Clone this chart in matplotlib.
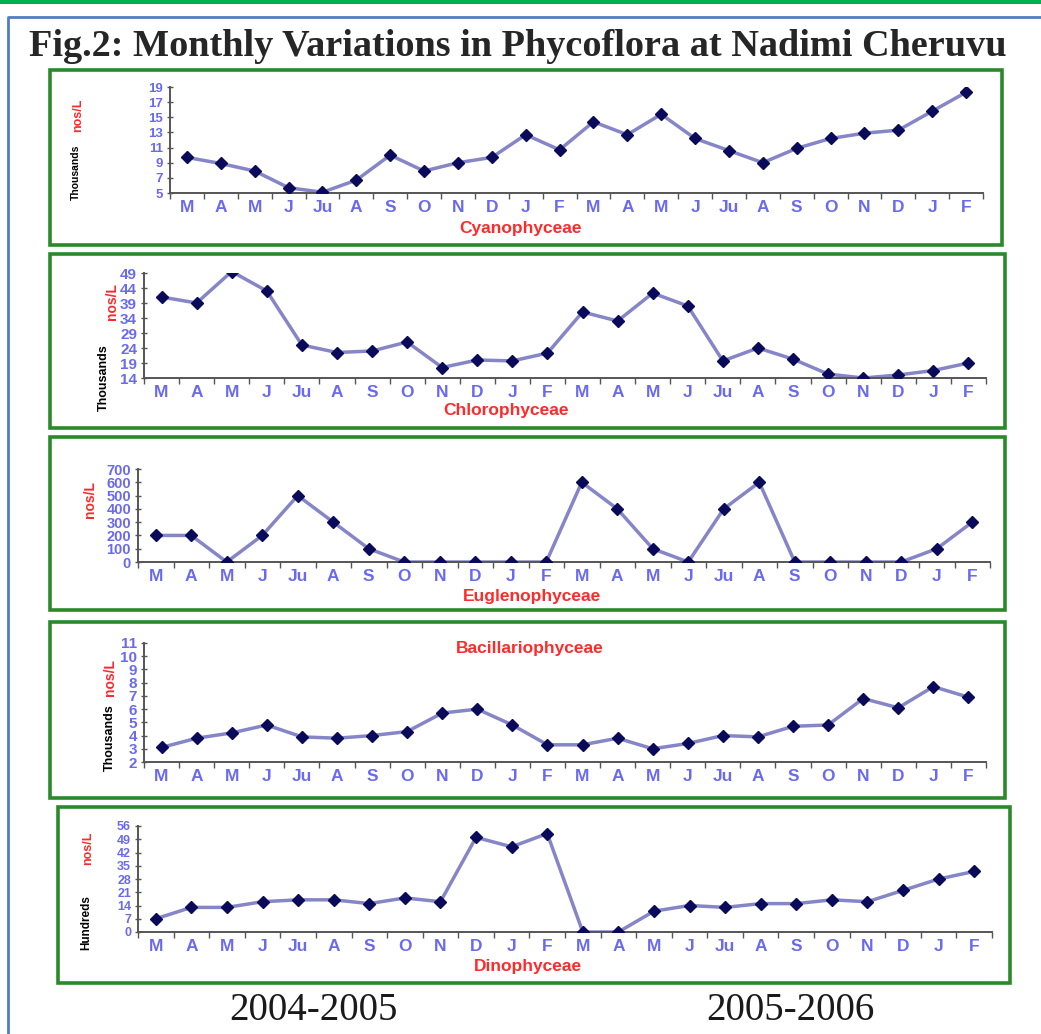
"""Fig.2 monthly variations in phycoflora at Nadimi Cheruvu."""

import matplotlib
matplotlib.use("Agg")
import matplotlib.pyplot as plt
import numpy as np
from matplotlib.patches import Rectangle

W, H = 1041, 1034

months = ["M", "A", "M", "J", "Ju", "A", "S", "O", "N", "D", "J", "F"] * 2

cyanophyceae = [9.7, 8.9, 7.9, 5.7, 5.1, 6.7, 10.0, 7.9, 9.0, 9.7, 12.7, 10.7,
                14.4, 12.7, 15.4, 12.2, 10.6, 9.0, 10.9, 12.2, 12.9, 13.3, 15.8, 18.3]
chlorophyceae = [41, 39, 49.5, 43, 25, 22.5, 23, 26, 17.5, 20, 19.7, 22.3,
                 36, 33, 42.3, 38, 19.7, 24, 20.3, 15.3, 14, 15, 16.5, 19]
euglenophyceae = [200, 200, 0, 200, 500, 300, 100, 0, 0, 0, 0, 0,
                  600, 400, 100, 0, 400, 600, 0, 0, 0, 0, 100, 300]
bacillariophyceae = [3.1, 3.8, 4.2, 4.8, 3.9, 3.8, 4.0, 4.3, 5.7, 6.0, 4.8, 3.3,
                     3.3, 3.8, 3.0, 3.4, 4.0, 3.9, 4.7, 4.8, 6.8, 6.1, 7.7, 6.9]
dinophyceae = [7, 13, 13, 16, 17, 17, 15, 18, 16, 50, 45, 52,
               0, 0, 11, 14, 13, 15, 15, 17, 16, 22, 28, 32]

cyano_ticks = [5, 7, 9, 11, 13, 15, 17, 19]
chloro_ticks = [14, 19, 24, 29, 34, 39, 44, 49]
eugleno_ticks = [0, 100, 200, 300, 400, 500, 600, 700]
bacill_ticks = [2, 3, 4, 5, 6, 7, 8, 9, 10, 11]
dino_ticks = [0, 7, 14, 21, 28, 35, 42, 49, 56]

LINE = "#8585c8"
MARK = "#0a0a5a"
TICKC = "#6a6af0"
RED = "#ff2a2a"
GREEN = "#2a8a2a"
SANS = "Liberation Sans"

fig = plt.figure(figsize=(W / 100, H / 100), dpi=100)

bg = fig.add_axes([0, 0, 1, 1], zorder=0)
bg.set_xlim(0, W)
bg.set_ylim(H, 0)
bg.axis("off")

# page decorations
bg.add_patch(Rectangle((0, 0), W, 4, color="#00b050", lw=0))
bg.plot([8, 8, W], [H, 17, 17], color="#4f7fc0", lw=2)

bg.text(518, 47, "Fig.2: Monthly Variations in Phycoflora at Nadimi Cheruvu",
        family="Liberation Serif", fontsize=27.5, fontweight="bold", color="#262626",
        ha="center", va="center")
bg.text(313, 1010, "2004-2005", family="Liberation Serif", fontsize=28,
        color="#1a1a1a", ha="center", va="center")
bg.text(790, 1010, "2005-2006", family="Liberation Serif", fontsize=28,
        color="#1a1a1a", ha="center", va="center")


def draw_panel(values, ticks, box, axes_px, name, name_xy, unit_labels, tick_size):
    bx0, by0, bx1, by1 = box
    bg.add_patch(Rectangle((bx0, by0), bx1 - bx0, by1 - by0, fill=False,
                           ec=GREEN, lw=2.6))

    left, top, right, bottom = axes_px
    ax = fig.add_axes([left / W, 1 - bottom / H, (right - left) / W, (bottom - top) / H],
                      zorder=2)
    ax.patch.set_alpha(0)
    x = np.arange(len(values))
    ax.plot(x, values, color=LINE, lw=2.5, zorder=2)
    ax.plot(x, values, ls="none", marker="D", ms=6, color=MARK, zorder=3)
    ax.set_xlim(-0.5, len(values) - 0.5)
    ax.set_ylim(ticks[0], ticks[-1])

    for side in ("top", "right"):
        ax.spines[side].set_visible(False)
    for side in ("left", "bottom"):
        ax.spines[side].set_color("#555555")
        ax.spines[side].set_linewidth(1.4)

    ax.set_yticks(ticks)
    ax.set_yticklabels([str(t) for t in ticks], family=SANS, fontweight="bold",
                       fontsize=tick_size, color=TICKC)
    ax.tick_params(axis="y", direction="inout", length=4, width=1, color="#555555", pad=3)

    ax.set_xticks(np.arange(-0.5, len(values), 1.0))
    ax.set_xticklabels([])
    ax.set_xticks(x, minor=True)
    ax.set_xticklabels(months, minor=True, family=SANS, fontweight="bold",
                       fontsize=12.5, color=TICKC)
    ax.tick_params(axis="x", which="major", direction="out", length=4, width=1,
                   color="#555555")
    ax.tick_params(axis="x", which="minor", length=0, pad=5)

    bg.text(name_xy[0], name_xy[1], name, family=SANS, fontweight="bold",
            fontsize=12.5, color=RED, ha="center", va="center")
    for text, tx, ty, color, size in unit_labels:
        bg.text(tx, ty, text, family=SANS, fontweight="bold", fontsize=size,
                color=color, rotation=90, ha="center", va="center")
    return ax


draw_panel(cyanophyceae, cyano_ticks, (50, 70, 1002, 245), (170, 87, 983, 193),
           "Cyanophyceae", (520, 229),
           [("nos/L", 78, 115, RED, 9), ("Thousands", 76, 172, "black", 7.5)], 9.5)

draw_panel(chlorophyceae, chloro_ticks, (50, 254, 1005, 428), (144, 273, 986, 378),
           "Chlorophyceae", (506, 410),
           [("nos/L", 112, 302, RED, 10), ("Thousands", 104, 378, "black", 9)], 11)

draw_panel(euglenophyceae, eugleno_ticks, (50, 437, 1005, 610), (138, 469, 990, 562),
           "Euglenophyceae", (532, 596),
           [("nos/L", 90, 500, RED, 10)], 10.5)

draw_panel(bacillariophyceae, bacill_ticks, (50, 622, 1005, 798), (144, 643, 986, 762),
           "Bacillariophyceae", (530, 648),
           [("nos/L", 110, 678, RED, 10), ("Thousands", 110, 738, "black", 9)], 11)

draw_panel(dinophyceae, dino_ticks, (58, 807, 1010, 983), (138, 826, 992, 932),
           "Dinophyceae", (528, 967),
           [("nos/L", 88, 848, RED, 9), ("Hundreds", 86, 923, "black", 8.5)], 9)

fig.savefig("out.png", dpi=100)
plt.close(fig)
